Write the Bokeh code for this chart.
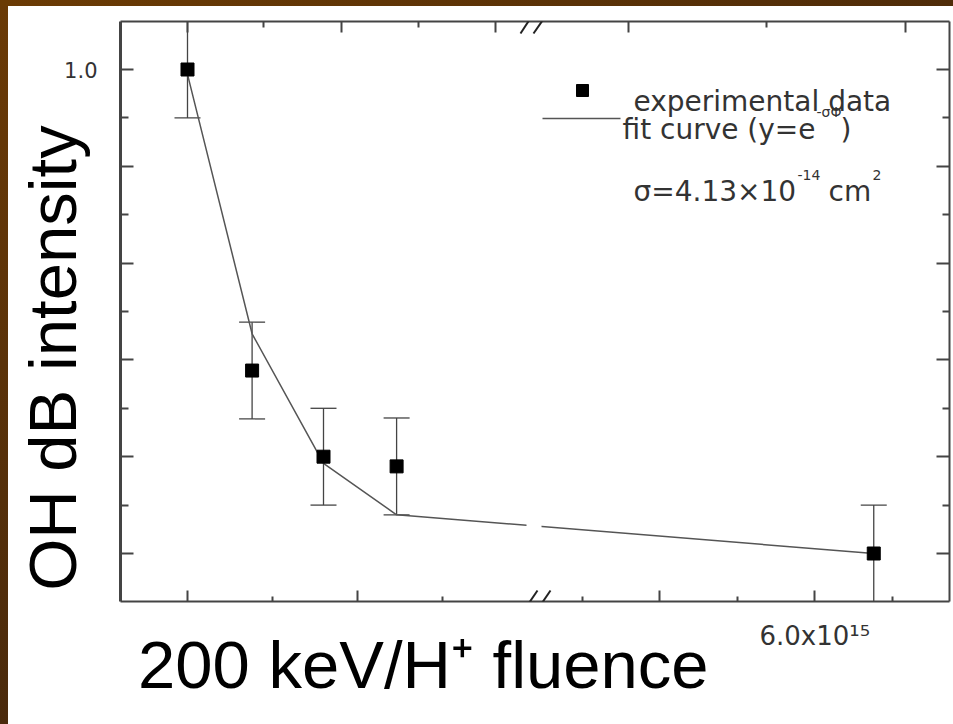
import math
from bokeh.plotting import figure
from bokeh.models import (LinearAxis, FixedTicker, CustomJSTickFormatter, Label, Whisker,
                          TeeHead, Arrow, Div, Range1d, ColumnDataSource)
from bokeh.layouts import column, row
from bokeh.embed import file_html
from bokeh.resources import INLINE

# ---------------- data (fluence in units of 1e15 ions/cm^2) ----------------
fluence = [0.0, 0.19, 0.40, 0.615, 6.38]
intensity = [1.0, 0.689, 0.600, 0.590, 0.500]
error = [0.05, 0.05, 0.05, 0.05, 0.05]
fit_fluence = [0.0, 0.19, 0.40, 0.615, 6.38]
fit_values = [0.995, 0.727, 0.593, 0.540, 0.500]

y_major = [0.5, 0.6, 0.7, 0.8, 0.9, 1.0]
y_minor = [0.55, 0.65, 0.75, 0.85, 0.95]
x_major = [0.0, 0.5, 5.0, 6.0]
x_minor = [0.25, 0.75, 4.5, 5.5, 6.5]
top_major = [0.0, 0.453, 0.906, 4.796, 6.584]
top_minor = [0.2235, 0.679, 5.69]
x_label_tick = 6.0
x_tick_text = "6.0x10¹⁵"
y_label_tick = 1.0
y_tick_text = "1.0"
y_title = "OH dB intensity"
x_title = "200 keV/H⁺ fluence"

# ---------------- broken-axis transform ----------------
LEFT_SCALE = 340.0    # axis units per 1e15 on the left segment
RIGHT_SCALE = 155.0   # axis units per 1e15 on the right segment
BREAK_L = 1.02
BREAK_R = 4.19
BREAK_U = LEFT_SCALE * BREAK_L


def to_axis(f):
    if f <= BREAK_L + 1e-9:
        return LEFT_SCALE * f
    return BREAK_U + RIGHT_SCALE * (f - BREAK_R)


# layout helpers for decorations (page pixel -> data)
def dx(px):
    return px - 187.0


def dy(py):
    return 1.0 - (py - 69.0) / 968.0


INK = "#333333"
AX = "#444444"
FIG_FONT = "DejaVu Sans"
NBSP = "\u00a0"

p = figure(width=945, height=718, output_backend="svg", toolbar_location=None,
           x_range=Range1d(dx(120), dx(949)), y_range=Range1d(dy(601), dy(21)),
           min_border_left=112, min_border_right=4, min_border_top=15, min_border_bottom=123,
           background_fill_color="white", border_fill_color="white")
p.outline_line_color = None
p.grid.visible = False

# ---------------- axes ----------------
hide_fmt = CustomJSTickFormatter(code="return '';")


def style_axis(ax, maj_in, min_in, lw):
    ax.axis_line_color = AX
    ax.axis_line_width = lw
    ax.major_tick_line_color = AX
    ax.minor_tick_line_color = AX
    ax.major_tick_line_width = 2
    ax.minor_tick_line_width = 2
    ax.major_tick_in = maj_in
    ax.major_tick_out = 0
    ax.minor_tick_in = min_in
    ax.minor_tick_out = 0


xb = p.xaxis[0]
xb.ticker = FixedTicker(ticks=[to_axis(v) for v in x_major], minor_ticks=[to_axis(v) for v in x_minor])
xb.formatter = CustomJSTickFormatter(args=dict(t=to_axis(x_label_tick), s=x_tick_text),
                                     code="return Math.abs(tick - t) < 1e-3 ? s : '';")
xb.major_label_text_font = FIG_FONT
xb.major_label_text_font_size = "26px"
xb.major_label_text_color = INK
xb.major_label_standoff = 19
xb.axis_label = x_title + NBSP * 12
xb.axis_label_text_font = "Liberation Sans"
xb.axis_label_text_font_size = "67px"
xb.axis_label_text_font_style = "normal"
xb.axis_label_text_color = "black"
xb.axis_label_standoff = -27
style_axis(xb, 11, 5, 2)

yl = p.yaxis[0]
yl.ticker = FixedTicker(ticks=y_major, minor_ticks=y_minor)
yl.formatter = CustomJSTickFormatter(args=dict(t=y_label_tick, s=y_tick_text),
                                     code="return Math.abs(tick - t) < 1e-6 ? s : '';")
yl.major_label_text_font = FIG_FONT
yl.major_label_text_font_size = "21px"
yl.major_label_text_color = INK
yl.major_label_standoff = 23
yl.axis_label = y_title + NBSP * 5
yl.axis_label_text_font = "Liberation Sans"
yl.axis_label_text_font_size = "67px"
yl.axis_label_text_font_style = "normal"
yl.axis_label_text_color = "black"
yl.axis_label_standoff = -29
style_axis(yl, 13, 8, 3)

yr = LinearAxis(ticker=FixedTicker(ticks=y_major, minor_ticks=y_minor), formatter=hide_fmt,
                major_label_text_font_size="1px", major_label_standoff=0)
style_axis(yr, 13, 7, 2)
p.add_layout(yr, "right")

xt = LinearAxis(ticker=FixedTicker(ticks=[to_axis(v) for v in top_major],
                                   minor_ticks=[to_axis(v) for v in top_minor]),
                formatter=hide_fmt, major_label_text_font_size="1px", major_label_standoff=0)
style_axis(xt, 11, 6, 2)
p.add_layout(xt, "above")

# ---------------- fit curve ----------------
fit_src = ColumnDataSource(dict(x=[to_axis(f) for f in fit_fluence], y=fit_values))
p.line("x", "y", source=fit_src, line_color="#555555", line_width=1.5)
# gap of the fit curve at the axis break
p.quad(left=[dx(526)], right=[dx(541)], bottom=[dy(540)], top=[dy(505)],
       fill_color="white", line_color=None)

# ---------------- error bars + points ----------------
src = ColumnDataSource(dict(x=[to_axis(f) for f in fluence], y=intensity,
                            lo=[v - e for v, e in zip(intensity, error)],
                            hi=[v + e for v, e in zip(intensity, error)]))
wh = Whisker(source=src, base="x", lower="lo", upper="hi", dimension="height",
             line_color=AX, line_width=1.3,
             upper_head=TeeHead(size=26, line_color=AX, line_width=1.3),
             lower_head=TeeHead(size=26, line_color=AX, line_width=1.3))
p.add_layout(wh)
p.scatter("x", "y", source=src, marker="square", size=13, fill_color="black", line_color="black")

# ---------------- axis-break slashes (inside part) ----------------
for (x0, y0, x1, y1) in [(522, 612, 537, 590), (535, 612, 550, 590),
                         (520, 33, 535, 10), (533, 33, 549, 10)]:
    p.add_layout(Arrow(x_start=dx(x0), y_start=dy(y0), x_end=dx(x1), y_end=dy(y1),
                       end=None, start=None, line_color="#222222", line_width=2))

# ---------------- legend (manual) ----------------
p.scatter(x=[dx(582)], y=[dy(90)], marker="square", size=12, fill_color="black", line_color="black")
p.line(x=[dx(542), dx(620)], y=[dy(118)] * 2, line_color="#555555", line_width=1.5)


def lab(px, py, text, size, color=INK, font=FIG_FONT, **kw):
    p.add_layout(Label(x=dx(px), y=dy(py), text=text, text_font=font, text_font_size=size,
                       text_color=color, text_baseline="alphabetic", **kw))


lab(633, 101, "experimental data", "28px")
lab(622, 129, "fit curve (y=e", "28px")
lab(816, 111, "-σΦ", "14px")
lab(840, 129, ")", "28px")
lab(633, 191, "σ=4.13×10", "28px")
lab(797, 174, "-14", "14px")
lab(828, 191, "cm", "28px")
lab(872, 174, "2", "14px")

# ---------------- brown slide border ----------------
top_bar = Div(text="", width=953, height=6, margin=0,
              styles={"background": "linear-gradient(to right, #6b3b04, #4f2c09)"})
left_bar = Div(text="", width=8, height=718, margin=0,
               styles={"background": "linear-gradient(to bottom, #6a3a06, #4a2a0c)"})
layout = column(top_bar, row(left_bar, p, spacing=0), spacing=0)

open("out.html", "w").write(file_html(layout, INLINE))
